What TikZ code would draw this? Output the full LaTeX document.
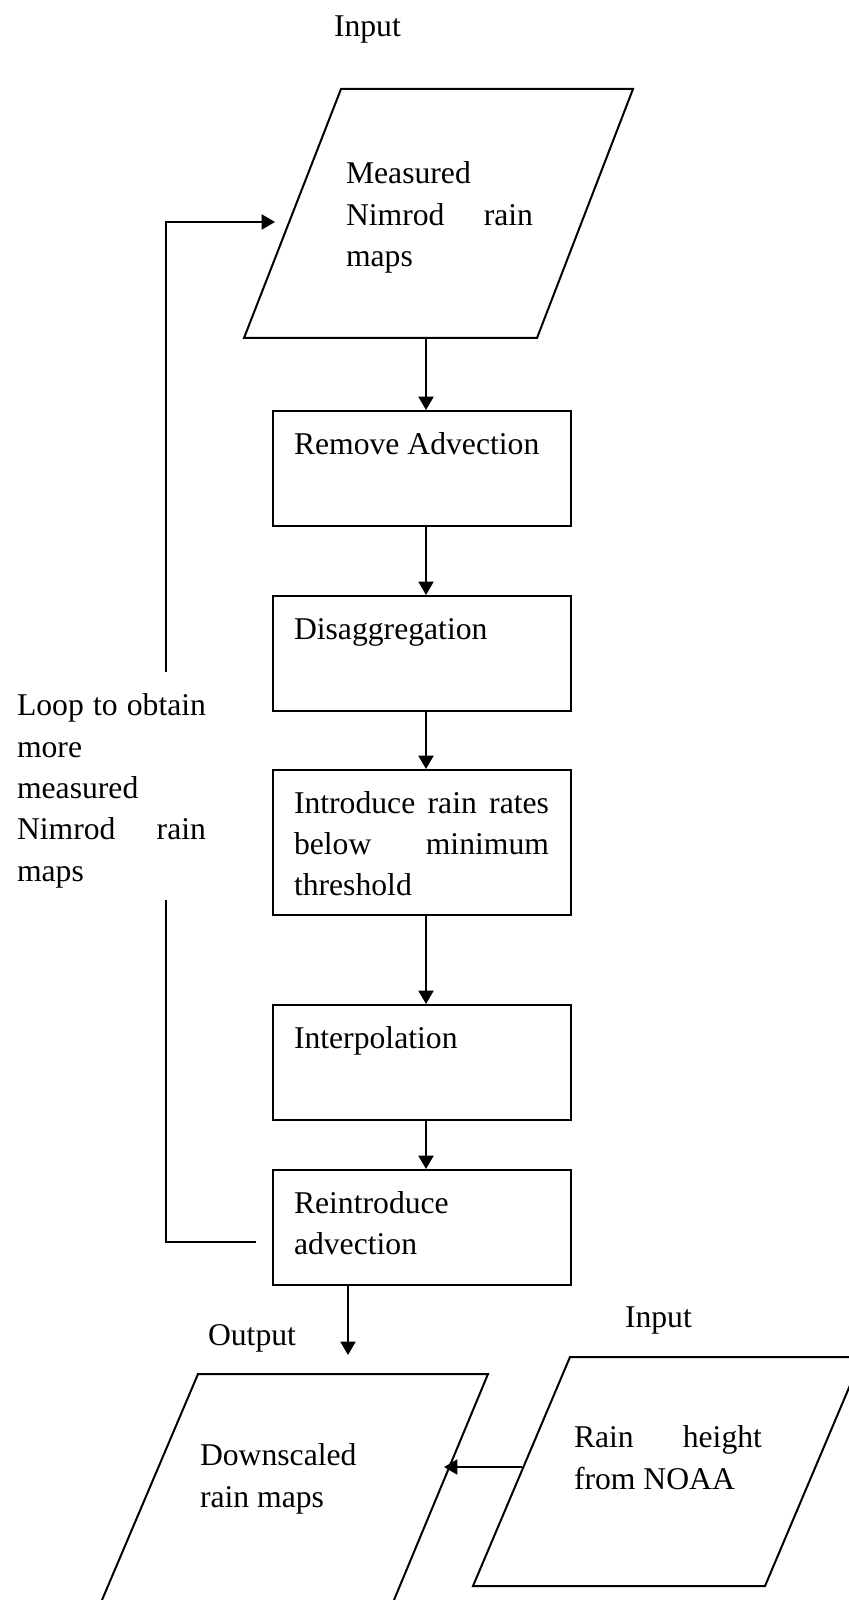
\documentclass[tikz,border=0pt]{standalone}
\usepackage{fontspec}
\setmainfont{Liberation Serif}
\usetikzlibrary{arrows.meta}
\newcommand{\boxfont}{\fontsize{9.5}{12.4}\selectfont}
\newcommand{\fullline}[2]{\makebox[#1][s]{#2}}

\begin{document}
\begin{tikzpicture}[x=0.3pt,y=-0.3pt,line width=0.6pt,
        box/.style={draw,minimum width=89.4pt,minimum height=34.5pt,inner sep=0pt},
        txt/.style={font=\boxfont,inner sep=0pt,anchor=north west,
                    execute at begin node={\parindent=0pt\noindent\strut}},
        par/.style={text width=#1,align=justify},
        arr/.style={-{Triangle[length=4pt,width=4.5pt]}}]
        \useasboundingbox (0,0) rectangle (849,1600);
        \clip (0,0) rectangle (849,1600);

        % input maps
        \node [txt] (intop) at (333,7) {Input};
        \coordinate (A) at (341,89);
        \coordinate (B) at (633,89);
        \coordinate (C) at (537,338);
        \coordinate (D) at (244,338);
        \draw (A) -- (B) -- (C) -- (D) -- cycle;
        \node [txt,par=56.1pt] (meas) at (345,154) {Measured\\\fullline{56.1pt}{Nimrod rain}\\maps};

        % steps
        \node [box] (remove) at (422,468.5) {};
        \node [box] (disagg) at (422,653.5) {};
        \node [box,minimum height=43.5pt] (introduce) at (422,842.5) {};
        \node [box] (interp) at (422,1062.5) {};
        \node [box] (reintro) at (422,1227.5) {};
        \node [txt] (removetxt) at ([shift={(21,14.1)}]remove.north west) {Remove Advection};
        \node [txt] (disaggtxt) at ([shift={(21,14.1)}]disagg.north west) {Disaggregation};
        \node [txt,par=76.5pt] (introducetxt) at ([shift={(21,14.1)}]introduce.north west) {\fullline{76.5pt}{Introduce rain rates}\\\fullline{76.5pt}{below minimum}\\threshold};
        \node [txt] (interptxt) at ([shift={(21,14.1)}]interp.north west) {Interpolation};
        \node [txt,par=76.5pt] (reintrotxt) at ([shift={(21,14.1)}]reintro.north west) {Reintroduce\\advection};

        \coordinate (E) at (426,338);
        \draw [arr] (E) -- (remove.north -| E);
        \draw [arr] (remove.south -| E) -- (disagg.north -| E);
        \draw [arr] (disagg.south -| E) -- (introduce.north -| E);
        \draw [arr] (introduce.south -| E) -- (interp.north -| E);
        \draw [arr] (interp.south -| E) -- (reintro.north -| E);

        % loop back
        \coordinate (G) at (256,1242);
        \coordinate (H) at (166,900);
        \coordinate (I) at (166,672);
        \coordinate (J) at (275,222);
        \draw (G) -| (H);
        \draw [arr] (I) |- (J);
        \node [txt,par=56.7pt] (loop) at (16,686) {\fullline{56.7pt}{Loop to obtain}\\more\\measured\\\fullline{56.7pt}{Nimrod rain}\\maps};

        % output
        \coordinate (F) at (348,1355);
        \draw [arr] (reintro.south -| F) -- (F);
        \node [txt] (output) at (207,1316) {Output};
        \coordinate (K) at (102,1600);
        \coordinate (L) at (198,1374);
        \coordinate (M) at (488,1374);
        \coordinate (N) at (394,1600);
        \draw (K) -- (L) -- (M) -- (N);
        \node [txt,par=56.7pt] (down) at (199,1436) {Downscaled\\rain maps};

        % second input
        \node [txt] (inbot) at (624,1298) {Input};
        \coordinate (O) at (570,1357);
        \coordinate (P) at (862,1357);
        \coordinate (Q) at (765,1586);
        \coordinate (R) at (473,1586);
        \draw (O) -- (P) -- (Q) -- (R) -- cycle;
        \node [txt,par=56.4pt] (noaa) at (573,1418) {\fullline{56.4pt}{Rain height}\\from NOAA};
        \coordinate (S) at (522,1467);
        \coordinate (T) at (444,1467);
        \draw [arr] (S) -- (T);

\end{tikzpicture}
\end{document}
